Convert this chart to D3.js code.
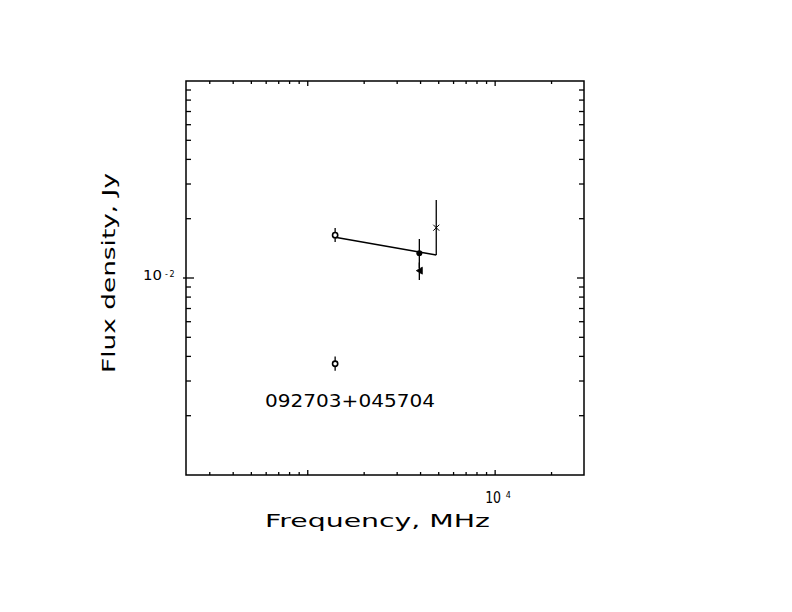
<!DOCTYPE html>
<html>
<head>
<meta charset="utf-8">
<script src="https://cdn.jsdelivr.net/npm/d3@7"></script>
<style>
  html, body { margin: 0; padding: 0; background: #fff; }
  svg { display: block; }
  text { font-family: "DejaVu Sans", sans-serif; fill: #000; }
</style>
</head>
<body>
<svg id="chart" width="792" height="612"></svg>
<script>
// ---- data ----
const xDomain = [224, 29800];          // Frequency, MHz
const yDomain = [1e-3, 1e-1];          // Flux density, Jy
const freqs   = [1400, 1400, 3940, 3940, 4850];
const flux    = [0.0165, 0.00367, 0.01335, 0.0109, 0.0180];
const fluxLo  = [0.01522, 0.00338, 0.01124, 0.00977, 0.01308];
const fluxHi  = [0.01793, 0.00399, 0.01577, 0.0120, 0.0249];
const markers = ["open", "open", "filled", "triLeft", "cross"];
const fitFreq = [1400, 4850];
const fitFlux = [0.01609, 0.01308];
const xTickLabels = [{ value: 1e4, base: "10", exp: "4" }];
const yTickLabels = [{ value: 1e-2, base: "10", exp: "-2" }];
const sourceName = "092703+045704";
const xTitle = "Frequency, MHz";
const yTitle = "Flux density, Jy";

// ---- layout ----
const L = 186, R = 584, T = 81, B = 475;
const svg = d3.select("#chart");
const x = d3.scaleLog().domain(xDomain).range([L, R]);
const y = d3.scaleLog().domain(yDomain).range([B, T]);

const isMajor = v => Math.abs(Math.log10(v) - Math.round(Math.log10(v))) < 1e-9;

// ticks
const g = svg.append("g").attr("stroke", "#000").attr("stroke-width", 1.3);
x.ticks().forEach(v => {
  const px = x(v);
  if (px <= L + 0.5 || px >= R - 0.5) return;
  const len = isMajor(v) ? 5 : 3;
  g.append("line").attr("x1", px).attr("x2", px).attr("y1", B).attr("y2", B - len);
  g.append("line").attr("x1", px).attr("x2", px).attr("y1", T).attr("y2", T + len);
});
y.ticks().forEach(v => {
  const py = y(v);
  if (py <= T + 0.5 || py >= B - 0.5) return;
  const major = isMajor(v);
  const len = major ? 8 : 5;
  g.append("line").attr("x1", major ? L - 3 : L).attr("x2", L + len).attr("y1", py).attr("y2", py);
  g.append("line").attr("x1", R).attr("x2", R - (major ? 7 : 5)).attr("y1", py).attr("y2", py);
});

// frame
svg.append("rect").attr("x", L).attr("y", T).attr("width", R - L).attr("height", B - T)
  .attr("fill", "none").attr("stroke", "#000").attr("stroke-width", 1.5);

// tick labels
xTickLabels.forEach(d => {
  const px = x(d.value);
  svg.append("text").attr("x", px - 10).attr("y", 503).attr("font-size", 15)
    .attr("textLength", 16).attr("lengthAdjust", "spacingAndGlyphs").text(d.base);
  svg.append("text").attr("x", px + 10.5).attr("y", 498).attr("font-size", 8).text(d.exp);
});
yTickLabels.forEach(d => {
  const py = y(d.value);
  svg.append("text").attr("x", 143).attr("y", py + 1.5).attr("font-size", 14)
    .attr("textLength", 19).attr("lengthAdjust", "spacingAndGlyphs").text(d.base);
  svg.append("text").attr("x", 165).attr("y", py - 1).attr("font-size", 8)
    .attr("letter-spacing", 1.5).text(d.exp);
});

// axis titles
svg.append("text").attr("x", 265).attr("y", 527).attr("font-size", 18)
  .attr("textLength", 225).attr("lengthAdjust", "spacingAndGlyphs").text(xTitle);
svg.append("text").attr("transform", "translate(115,373) rotate(-90)").attr("font-size", 18)
  .attr("textLength", 200).attr("lengthAdjust", "spacingAndGlyphs").text(yTitle);

// source name
svg.append("text").attr("x", 265).attr("y", 407).attr("font-size", 17)
  .attr("textLength", 170).attr("lengthAdjust", "spacingAndGlyphs").text(sourceName);

// fit line
const fitData = fitFreq.map((f, i) => [f, fitFlux[i]]);
svg.append("path").datum(fitData)
  .attr("d", d3.line().x(d => x(d[0])).y(d => y(d[1])))
  .attr("fill", "none").attr("stroke", "#000").attr("stroke-width", 1.4);

// error bars and markers
freqs.forEach((f, i) => {
  const px = x(f), py = y(flux[i]);
  svg.append("line").attr("x1", px).attr("x2", px)
    .attr("y1", y(fluxLo[i])).attr("y2", y(fluxHi[i]))
    .attr("stroke", "#000").attr("stroke-width", 1.3);
  const m = markers[i];
  if (m === "open") {
    svg.append("circle").attr("cx", px).attr("cy", py).attr("r", 2.6)
      .attr("fill", "#fff").attr("stroke", "#000").attr("stroke-width", 1.6);
  } else if (m === "filled") {
    svg.append("circle").attr("cx", px).attr("cy", py).attr("r", 3).attr("fill", "#000");
  } else if (m === "triLeft") {
    svg.append("path")
      .attr("d", `M${px - 3},${py} L${px + 3},${py - 3.5} L${px + 3},${py + 3.5} Z`)
      .attr("fill", "#000").attr("stroke", "#000").attr("stroke-width", 0.8);
  } else if (m === "cross") {
    const s = 3;
    svg.append("path")
      .attr("d", `M${px - s},${py - s} L${px + s},${py + s} M${px - s},${py + s} L${px + s},${py - s}`)
      .attr("stroke", "#000").attr("stroke-width", 1);
  }
});
</script>
</body>
</html>
